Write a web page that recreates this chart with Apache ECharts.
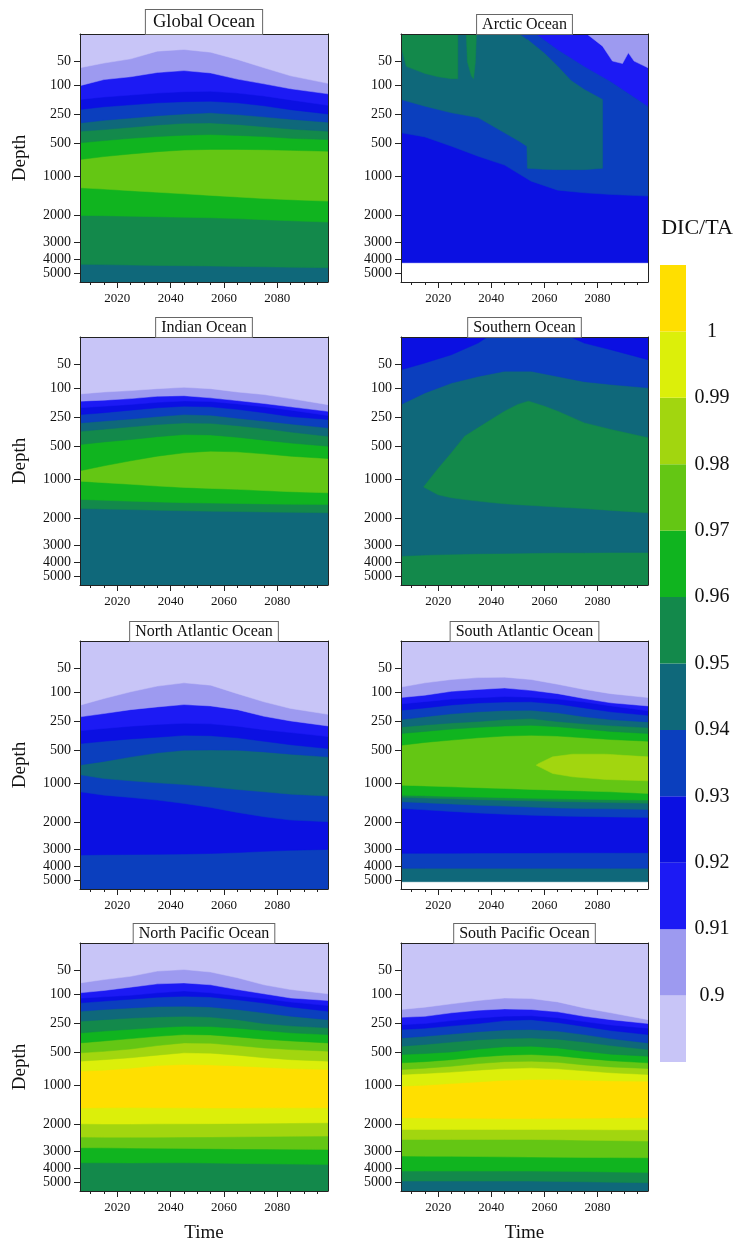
<!DOCTYPE html>
<html>
<head>
<meta charset="utf-8">
<script src="https://cdn.jsdelivr.net/npm/echarts@6/dist/echarts.min.js"></script>
<style>html,body{margin:0;padding:0;background:#fff}#c{width:735px;height:1246px}</style>
</head>
<body>
<div id="c"></div>
<script>
// ---------- axes / scale definitions ----------
const YEARS = [2006, 2015, 2025, 2035, 2045, 2055, 2065, 2075, 2085, 2099];
const YEAR_TICKS = [2020, 2040, 2060, 2080];
const YEAR_MINOR_TICKS = [2010, 2015, 2020, 2025, 2030, 2035, 2040, 2045, 2050, 2055, 2060, 2065, 2070, 2075, 2080, 2085, 2090, 2095];
const DEPTH_TICKS = [50, 100, 250, 500, 1000, 2000, 3000, 4000, 5000];
// stretched (model-level) depth axis: depth in m -> level position (0..100)
const DEPTH_AXIS_KNOTS_M = [0, 50, 100, 250, 500, 1000, 2000, 3000, 4000, 5000, 5500];
const DEPTH_AXIS_KNOTS_LEVEL = [0, 11.14, 20.67, 32.48, 44.16, 57.32, 73.15, 83.89, 91.01, 96.51, 100];

// ---------- colour scale (DIC/TA) ----------
const DIC_TA_BREAKS = [0.89, 0.90, 0.91, 0.92, 0.93, 0.94, 0.95, 0.96, 0.97, 0.98, 0.99, 1.00, 1.01];
const DIC_TA_LABELS = [0.9, 0.91, 0.92, 0.93, 0.94, 0.95, 0.96, 0.97, 0.98, 0.99, 1];
const LEVEL_COLORS = ['#c8c5f7', '#9d9af0', '#1c1af4', '#0b10e2', '#0b3fbe', '#0f687a', '#13894b', '#10b41f', '#64c614', '#a2d60f', '#dcef0a', '#ffdf00'];

const PANEL_TITLES = ['Global Ocean', 'Arctic Ocean', 'Indian Ocean', 'Southern Ocean', 'North Atlantic Ocean', 'South Atlantic Ocean', 'North Pacific Ocean', 'South Pacific Ocean'];

// ---------- data: [colour level, lower boundary depth (m) at each of YEARS], shallow -> deep ----------
const GLOBAL_BASE = [5, 5500];
const GLOBAL_BANDS = [
  [0, [63, 53, 45, 31, 28, 33, 46, 63, 80, 96]],
  [1, [102, 88, 82, 73, 69, 74, 87, 97, 118, 144]],
  [2, [173, 160, 150, 140, 133, 131, 140, 155, 175, 203]],
  [3, [224, 210, 200, 190, 184, 182, 190, 205, 225, 247]],
  [4, [322, 300, 280, 260, 247, 241, 250, 270, 290, 316]],
  [5, [394, 380, 360, 340, 325, 322, 335, 355, 375, 394]],
  [6, [494, 475, 455, 440, 428, 423, 430, 440, 455, 466]],
  [7, [745, 700, 660, 625, 600, 590, 590, 595, 605, 617]],
  [8, [1296, 1330, 1370, 1410, 1450, 1490, 1530, 1570, 1600, 1635]],
  [7, [2000, 2010, 2030, 2050, 2070, 2088, 2120, 2160, 2200, 2250]],
  [6, [4340, 4360, 4390, 4420, 4440, 4460, 4490, 4520, 4550, 4585]]
];
const GLOBAL_PATCHES = [];

const ARCTIC_BASE = [3, 4220];
const ARCTIC_BANDS = [
  [4, [408, 443, 541, 694, 831, 1127, 1356, 1424, 1466, 1508]]
];
// patches: [level, years, top depths, bottom depths]
const ARCTIC_PATCHES = [
  [5, [2006, 2015, 2025, 2035, 2045, 2050.5, 2053.4, 2053.6, 2060, 2065, 2070, 2075, 2081.9],
      [0, 0, 0, 0, 0, 0, 10, 10, 35, 60, 90, 122, 173],
      [173, 207, 241, 276, 408, 480, 540, 880, 895, 900, 900, 900, 880]],
  [2, [2057, 2065, 2075, 2085, 2099], [0, 0, 0, 0, 0], [0, 28, 60, 92, 207]],
  [1, [2076, 2081.9, 2085.6, 2089.4, 2091.6, 2093.75, 2099], [0, 0, 0, 0, 0, 0, 0], [0, 22, 49, 54, 34, 49, 63]],
  [6, [2006, 2008, 2015, 2020, 2025, 2027.4], [0, 0, 0, 0, 0, 0], [22, 60, 75, 82, 86, 86]],
  [6, [2030.6, 2031.0, 2032.5, 2033.3, 2034.0, 2034.4], [0, 0, 0, 0, 0, 0], [0, 50, 80, 86, 50, 0]]
];

const INDIAN_BASE = [5, 5500];
const INDIAN_BANDS = [
  [0, [129, 119, 112, 102, 98, 102, 119, 132, 153, 184]],
  [1, [166, 161, 153, 141, 138, 149, 163, 178, 195, 218]],
  [2, [200, 192, 183, 172, 165, 168, 180, 195, 212, 240]],
  [3, [235, 225, 212, 200, 192, 195, 208, 225, 245, 267]],
  [4, [296, 280, 262, 245, 235, 238, 255, 280, 305, 339]],
  [5, [369, 350, 330, 310, 296, 300, 320, 345, 375, 411]],
  [6, [483, 460, 440, 415, 397, 400, 420, 445, 470, 497]],
  [7, [871, 795, 719, 648, 597, 571, 582, 612, 648, 684]],
  [8, [1051, 1090, 1130, 1175, 1210, 1235, 1260, 1290, 1320, 1347]],
  [7, [1517, 1540, 1560, 1580, 1600, 1610, 1620, 1630, 1640, 1644]],
  [6, [1746, 1760, 1775, 1790, 1805, 1815, 1825, 1835, 1845, 1855]]
];
const INDIAN_PATCHES = [];

const SOUTHERN_BASE = [6, 5500];
const SOUTHERN_BANDS = [
  [4, [183, 124, 89, 75, 64, 64, 75, 86, 92, 99]],
  [5, [3623, 3566, 3528, 3491, 3472, 3453, 3434, 3434, 3415, 3415]]
];
const SOUTHERN_PATCHES = [
  [6, [2014.5, 2020, 2025, 2030, 2035, 2040, 2045, 2050, 2054, 2060, 2065, 2075, 2085, 2099],
      [1200, 837, 597, 411, 339, 267, 218, 183, 166, 192, 218, 296, 353, 425],
      [1200, 1400, 1474, 1520, 1559, 1595, 1627, 1650, 1665, 1690, 1711, 1745, 1796, 1855]],
  [3, [2006, 2015, 2025, 2035, 2038.5], [0, 0, 0, 0, 0], [61, 47, 32, 11, 0]],
  [3, [2070, 2075, 2085, 2099], [0, 0, 0, 0], [0, 11, 23, 41]]
];

const NATL_BASE = [4, 5500];
const NATL_BANDS = [
  [0, [166, 132, 99, 87, 80, 85, 107, 149, 183, 213]],
  [1, [226, 209, 189, 175, 163, 170, 189, 223, 247, 288]],
  [2, [330, 310, 290, 275, 265, 270, 290, 320, 345, 380]],
  [3, [440, 420, 400, 385, 369, 372, 390, 420, 450, 483]],
  [4, [720, 667, 597, 536, 497, 495, 497, 521, 556, 597]],
  [5, [871, 929, 964, 995, 1034, 1093, 1161, 1220, 1280, 1330]],
  [4, [1220, 1305, 1364, 1432, 1517, 1618, 1745, 1855, 1940, 1983]],
  [3, [3340, 3320, 3310, 3300, 3283, 3250, 3200, 3130, 3070, 3019]]
];
const NATL_PATCHES = [];

const SATL_BASE = [5, 5080];
const SATL_BANDS = [
  [0, [89, 80, 73, 69, 68, 73, 83, 94, 107, 127]],
  [1, [127, 115, 98, 94, 91, 96, 107, 132, 154, 170]],
  [2, [160, 148, 135, 128, 122, 125, 135, 150, 170, 195]],
  [3, [192, 180, 165, 155, 150, 149, 160, 180, 200, 218]],
  [4, [240, 225, 210, 200, 193, 192, 205, 225, 240, 253]],
  [5, [296, 280, 262, 250, 240, 235, 250, 270, 285, 302]],
  [6, [353, 335, 315, 300, 288, 282, 295, 315, 335, 353]],
  [7, [455, 430, 410, 390, 375, 369, 375, 390, 405, 419]],
  [8, [1051, 1070, 1093, 1115, 1136, 1160, 1178, 1200, 1220, 1263]],
  [7, [1305, 1320, 1340, 1355, 1370, 1385, 1400, 1410, 1420, 1432]],
  [6, [1360, 1380, 1400, 1420, 1435, 1450, 1465, 1480, 1495, 1510]],
  [5, [1474, 1500, 1530, 1560, 1585, 1610, 1630, 1645, 1655, 1669]],
  [4, [1644, 1680, 1720, 1760, 1790, 1815, 1835, 1850, 1860, 1872]],
  [3, [3245, 3240, 3235, 3230, 3225, 3220, 3215, 3212, 3210, 3208]],
  [4, [4122, 4120, 4118, 4120, 4121, 4120, 4119, 4120, 4121, 4122]]
];
const SATL_PATCHES = [
  [9, [2056.9, 2058.1, 2063.1, 2070.6, 2083.1, 2099], [724, 694, 597, 556, 556, 597], [724, 750, 852, 903, 944, 964]]
];

const NPAC_BASE = [6, 5500];
const NPAC_BANDS = [
  [0, [76, 69, 62, 51, 48, 53, 65, 80, 90, 99]],
  [1, [97, 92, 85, 78, 76, 80, 90, 99, 119, 132]],
  [2, [120, 113, 105, 97, 93, 97, 108, 122, 140, 158]],
  [3, [144, 135, 125, 115, 110, 114, 128, 145, 165, 187]],
  [4, [187, 178, 170, 163, 161, 165, 178, 195, 212, 230]],
  [5, [238, 230, 222, 216, 213, 217, 230, 250, 270, 287]],
  [6, [331, 315, 300, 285, 273, 276, 290, 310, 330, 345]],
  [7, [417, 400, 380, 360, 345, 348, 365, 385, 400, 417]],
  [8, [505, 490, 470, 440, 417, 420, 440, 460, 475, 488]],
  [9, [632, 610, 580, 540, 505, 510, 540, 580, 610, 632]],
  [10, [785, 770, 740, 700, 684, 690, 705, 725, 745, 760]],
  [11, [1580, 1575, 1570, 1575, 1576, 1580, 1580, 1578, 1577, 1576]],
  [10, [1983, 1990, 1990, 1985, 1983, 1980, 1975, 1970, 1965, 1958]],
  [9, [2475, 2480, 2480, 2478, 2475, 2470, 2465, 2455, 2445, 2438]],
  [8, [2875, 2880, 2890, 2895, 2900, 2910, 2920, 2925, 2930, 2938]],
  [7, [3662, 3665, 3670, 3665, 3662, 3680, 3700, 3720, 3740, 3756]]
];
const NPAC_PATCHES = [];

const SPAC_BASE = [5, 5500];
const SPAC_BANDS = [
  [0, [178, 166, 149, 132, 119, 122, 139, 170, 195, 230]],
  [1, [218, 213, 195, 182, 175, 178, 190, 213, 230, 250]],
  [2, [260, 250, 235, 222, 212, 210, 220, 240, 262, 290]],
  [3, [301, 290, 270, 250, 235, 230, 245, 275, 310, 345]],
  [4, [374, 360, 340, 320, 305, 301, 315, 345, 380, 417]],
  [5, [445, 430, 410, 390, 378, 374, 385, 410, 440, 474]],
  [6, [531, 515, 495, 470, 450, 445, 460, 490, 525, 556]],
  [7, [658, 640, 610, 570, 540, 531, 550, 590, 625, 658]],
  [8, [760, 740, 710, 670, 640, 632, 650, 690, 720, 745]],
  [9, [837, 820, 800, 770, 745, 735, 750, 780, 810, 837]],
  [10, [1025, 1000, 975, 950, 925, 913, 915, 925, 935, 939]],
  [11, [1830, 1835, 1840, 1845, 1847, 1847, 1845, 1840, 1835, 1830]],
  [10, [2188, 2190, 2190, 2190, 2188, 2188, 2190, 2195, 2200, 2200]],
  [9, [2563, 2565, 2565, 2565, 2563, 2565, 2575, 2590, 2605, 2625]],
  [8, [3283, 3290, 3300, 3310, 3330, 3340, 3350, 3360, 3370, 3378]],
  [7, [4171, 4171, 4175, 4175, 4171, 4175, 4190, 4210, 4240, 4270]],
  [6, [4902, 4902, 4905, 4905, 4902, 4905, 4930, 4960, 4990, 5019]]
];
const SPAC_PATCHES = [];

// ---------- layout ----------
const SERIF = '"Liberation Serif", "Times New Roman", Times, serif';
const COL_LEFT = [80, 401];
const COL_WIDTH = [248, 247];
const ROW_TOP = [34, 337, 641, 943];
const PLOT_H = 248;
const AX = '#222';

const PANELS = [
  [GLOBAL_BASE, GLOBAL_BANDS, GLOBAL_PATCHES],
  [ARCTIC_BASE, ARCTIC_BANDS, ARCTIC_PATCHES],
  [INDIAN_BASE, INDIAN_BANDS, INDIAN_PATCHES],
  [SOUTHERN_BASE, SOUTHERN_BANDS, SOUTHERN_PATCHES],
  [NATL_BASE, NATL_BANDS, NATL_PATCHES],
  [SATL_BASE, SATL_BANDS, SATL_PATCHES],
  [NPAC_BASE, NPAC_BANDS, NPAC_PATCHES],
  [SPAC_BASE, SPAC_BANDS, SPAC_PATCHES]
];

function toLevel(d) {
  const K = DEPTH_AXIS_KNOTS_M, L = DEPTH_AXIS_KNOTS_LEVEL;
  if (d <= K[0]) return L[0];
  for (let i = 1; i < K.length; i++) {
    if (d <= K[i]) return L[i - 1] + (d - K[i - 1]) / (K[i] - K[i - 1]) * (L[i] - L[i - 1]);
  }
  return L[L.length - 1];
}
const TICK_LEVELS = DEPTH_TICKS.map(toLevel);
// labels split over two overlaid axes so neighbouring labels are not culled
const LABEL_LEVELS_A = TICK_LEVELS.filter((_, i) => i % 2 === 0);
const LABEL_LEVELS_B = TICK_LEVELS.filter((_, i) => i % 2 === 1);
function depthLabel(v) {
  let best = 0, bd = Infinity;
  TICK_LEVELS.forEach((t, i) => { const d = Math.abs(t - v); if (d < bd) { bd = d; best = i; } });
  return String(DEPTH_TICKS[best]);
}

function buildShapes(base, bands, patches) {
  const first = YEARS[0], last = YEARS[YEARS.length - 1];
  const shapes = [{ lv: base[0], xs: [first, last], top: [0, 0], bot: [base[1], base[1]] }];
  for (let i = bands.length - 1; i >= 0; i--) {
    shapes.push({ lv: bands[i][0], xs: YEARS, top: YEARS.map(() => 0), bot: bands[i][1] });
  }
  patches.forEach(p => shapes.push({ lv: p[0], xs: p[1], top: p[2], bot: p[3] }));
  return shapes;
}

const grids = [], xAxes = [], yAxes = [], series = [], graphics = [];
const yLabelStyle = { fontFamily: SERIF, fontSize: 14, color: '#111', margin: 9, hideOverlap: false, formatter: depthLabel };

PANELS.forEach((p, g) => {
  const col = g % 2, row = Math.floor(g / 2);
  grids.push({ left: COL_LEFT[col], top: ROW_TOP[row], width: COL_WIDTH[col], height: PLOT_H, containLabel: false, outerBoundsMode: 'none' });
  const xBase = { gridIndex: g, type: 'value', min: 2006, max: 2099, z: 10, splitLine: { show: false } };
  xAxes.push(Object.assign({}, xBase, {
    position: 'bottom',
    axisLine: { show: true, onZero: false, lineStyle: { color: AX, width: 1 } },
    axisTick: { show: true, length: 6, customValues: YEAR_TICKS, lineStyle: { color: AX } },
    axisLabel: { show: true, customValues: YEAR_TICKS, formatter: v => String(v), hideOverlap: false, fontFamily: SERIF, fontSize: 13, color: '#111', margin: 10 },
    name: row === 3 ? 'Time' : '', nameLocation: 'middle', nameGap: 33,
    nameTextStyle: { fontFamily: SERIF, fontSize: 19, color: '#111' }
  }));
  xAxes.push(Object.assign({}, xBase, {
    position: 'bottom',
    axisLine: { show: false, onZero: false },
    axisTick: { show: true, length: 3, customValues: YEAR_MINOR_TICKS, lineStyle: { color: AX } },
    axisLabel: { show: false }
  }));
  xAxes.push(Object.assign({}, xBase, {
    position: 'top',
    axisLine: { show: true, onZero: false, lineStyle: { color: AX, width: 1 } },
    axisTick: { show: false }, axisLabel: { show: false }
  }));
  const yBase = { gridIndex: g, type: 'value', inverse: true, min: 0, max: 100, z: 10, splitLine: { show: false } };
  yAxes.push(Object.assign({}, yBase, {
    position: 'left',
    axisLine: { show: true, onZero: false, lineStyle: { color: AX, width: 1 } },
    axisTick: { show: true, length: 6, customValues: TICK_LEVELS, lineStyle: { color: AX } },
    axisLabel: Object.assign({ show: true, customValues: LABEL_LEVELS_A }, yLabelStyle),
    name: col === 0 ? 'Depth' : '', nameLocation: 'middle', nameGap: 50, nameRotate: 90,
    nameTextStyle: { fontFamily: SERIF, fontSize: 19, color: '#111' }
  }));
  yAxes.push(Object.assign({}, yBase, {
    position: 'right',
    axisLine: { show: true, onZero: false, lineStyle: { color: AX, width: 1 } },
    axisTick: { show: false }, axisLabel: { show: false }
  }));
  yAxes.push(Object.assign({}, yBase, {
    position: 'left',
    axisLine: { show: false, onZero: false },
    axisTick: { show: false },
    axisLabel: Object.assign({ show: true, customValues: LABEL_LEVELS_B }, yLabelStyle)
  }));
  const shapes = buildShapes(p[0], p[1], p[2]);
  series.push({
    type: 'custom', xAxisIndex: 3 * g, yAxisIndex: 3 * g, silent: true, animation: false, clip: true,
    data: shapes.map((s, i) => [s.xs[0], 0, i]),
    encode: { x: 0, y: 1 },
    renderItem: function (params, api) {
      const s = shapes[params.dataIndex];
      const pts = [];
      for (let k = 0; k < s.xs.length; k++) pts.push(api.coord([s.xs[k], toLevel(s.top[k])]));
      for (let k = s.xs.length - 1; k >= 0; k--) pts.push(api.coord([s.xs[k], toLevel(s.bot[k])]));
      const c = LEVEL_COLORS[s.lv];
      return { type: 'polygon', shape: { points: pts }, style: { fill: c, stroke: c, lineWidth: 0.5 } };
    }
  });
  const big = g === 0;
  graphics.push({
    type: 'text', z: 100,
    x: COL_LEFT[col] + COL_WIDTH[col] / 2, y: ROW_TOP[row],
    style: {
      text: PANEL_TITLES[g], align: 'center', verticalAlign: 'bottom',
      fontFamily: SERIF, fontSize: big ? 18.5 : 16, fill: '#111',
      backgroundColor: '#fff', borderColor: '#666', borderWidth: 1,
      padding: big ? [3, 7, 2, 7] : [2, 5, 1, 5]
    }
  });
});

// colour bar
const CB = 8;
grids.push({ left: 660, top: 265, width: 26, height: 797, containLabel: false, outerBoundsMode: 'none' });
xAxes.push({ gridIndex: CB, type: 'value', min: 0, max: 1, show: false });
yAxes.push({
  gridIndex: CB, type: 'value', min: 0.89, max: 1.01, position: 'right',
  axisLine: { show: false }, axisTick: { show: false }, splitLine: { show: false },
  axisLabel: { show: true, customValues: DIC_TA_LABELS, formatter: v => String(+v.toFixed(2)), hideOverlap: false, fontFamily: SERIF, fontSize: 20, color: '#111', margin: 26, align: 'center' }
});
series.push({
  type: 'custom', xAxisIndex: 3 * CB, yAxisIndex: 3 * CB, silent: true, animation: false,
  data: DIC_TA_BREAKS.slice(0, -1).map((lo, i) => [0, lo, DIC_TA_BREAKS[i + 1], i]),
  encode: { x: 0, y: 1 },
  renderItem: function (params, api) {
    const lo = api.value(1), hi = api.value(2), i = api.value(3);
    const a = api.coord([0, hi]), b = api.coord([1, lo]);
    return { type: 'rect', shape: { x: a[0], y: a[1], width: b[0] - a[0], height: b[1] - a[1] }, style: { fill: LEVEL_COLORS[i] } };
  }
});
graphics.push({
  type: 'text', z: 100, x: 697, y: 228,
  style: { text: 'DIC/TA', align: 'center', verticalAlign: 'middle', fontFamily: SERIF, fontSize: 22, fill: '#111' }
});

const chart = echarts.init(document.getElementById('c'), null, { renderer: 'canvas' });
chart.setOption({
  backgroundColor: '#fff',
  animation: false,
  grid: grids, xAxis: xAxes, yAxis: yAxes, series: series,
  graphic: graphics
});
</script>
</body>
</html>
